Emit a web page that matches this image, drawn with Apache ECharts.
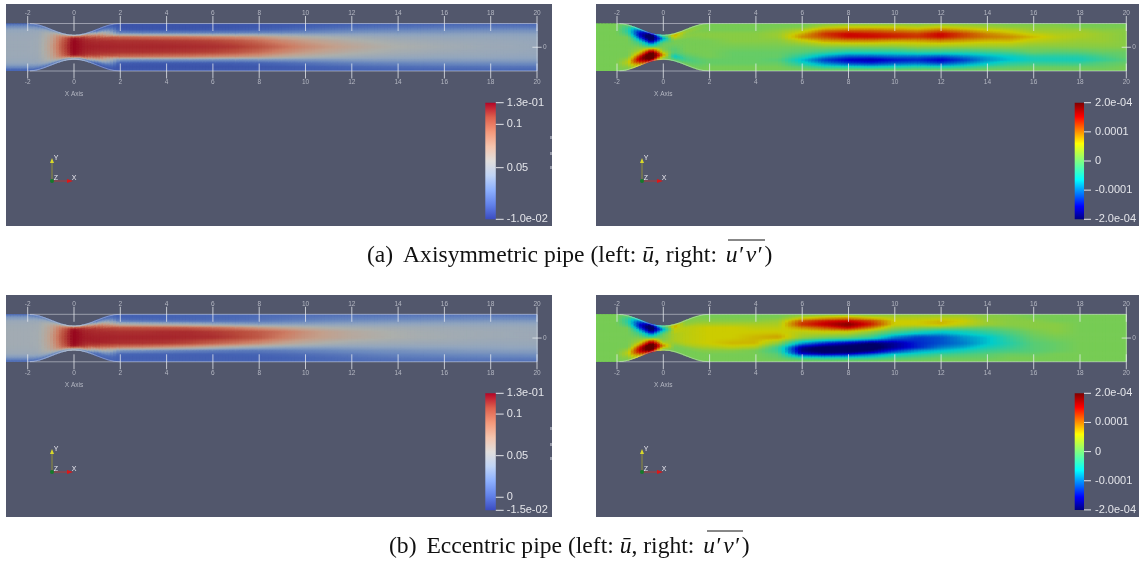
<!DOCTYPE html>
<html><head><meta charset="utf-8">
<style>html,body{margin:0;padding:0;background:#fff}#c{width:1139px;height:563px}</style>
<script src="https://cdn.jsdelivr.net/npm/echarts@6/dist/echarts.min.js"></script>
</head><body><div id="c"></div>
<script>
// Stations along the pipe and normalised radial rows (1 = upper wall, -1 = lower wall)
const stationsX = [-3,-2,-1.5,-1,-.5,0,.5,1,2,3,4,5,6,7,8,9,10,11,12,13,14,15,16,17,18,19,20];
const rowsR = [1,.85,.7,.55,.42,.25,0,-.25,-.42,-.55,-.7,-.85,-1];
// Wall radius
const wallX = [-3,-2,-1.75,-1.5,-1.25,-1,-.75,-.5,-.25,0,.25,.5,.75,1,1.25,1.5,1.75,2,20];
const wallR = [1,1,.981,.927,.846,.75,.654,.573,.519,.5,.519,.573,.654,.75,.846,.927,.981,1,1];
const xTicks = [-2,0,2,4,6,8,10,12,14,16,18,20];

// Mean velocity, axisymmetric pipe, 1e-3 units, half profile r=1..0 at each station
const uAxiHalf = [
[5,28,42,46,47,48,48],[5,28,42,46,47,48,48],[8,32,45,48,49,50,50],[14,45,60,66,68,70,72],
[20,70,92,98,100,102,104],[35,100,122,124,125,125,125],[15,85,110,115,117,118,119],[0,25,75,106,113,116,118],
[2,0,4,30,98,114,117],[3,0,3,28,96,114,117],[3,0,3,28,94,113,117],[3,0,3,28,92,112,116],
[3,0,4,28,88,110,115],[3,1,5,28,84,105,113],[4,2,7,30,78,97,107],[4,3,10,31,68,86,97],
[5,5,14,32,60,76,86],[5,7,18,33,54,68,78],[6,9,21,35,50,61,70],[6,11,23,36,47,56,63],
[7,12,24,36,45,52,58],[7,13,25,36,44,50,55],[7,14,26,36,43,48,52],[8,14,27,37,43,47,50],
[8,15,27,37,43,46,48],[8,15,28,37,42,45,47],[8,15,28,37,42,44,45]];
// Mean velocity, eccentric pipe, 1e-3 units
const uEcc = [
[5,28,42,46,47,48,48,48,47,46,42,28,5],[5,28,42,46,47,48,48,48,47,46,42,28,5],
[8,32,45,48,49,50,50,50,49,48,45,32,8],[14,45,60,66,68,70,72,70,68,66,60,45,14],
[20,70,92,98,100,102,104,102,100,98,92,70,20],[35,100,122,124,125,125,125,125,125,124,122,100,35],
[15,85,110,115,117,118,119,118,116,114,106,78,15],[0,30,85,110,114,116,118,118,112,100,55,15,0],
[2,0,12,58,104,114,117,114,88,28,3,0,2],[3,0,10,55,104,114,117,113,85,24,2,0,2],
[3,1,8,52,103,115,117,112,78,20,2,0,2],[3,2,8,48,101,115,116,108,70,17,1,0,1],
[4,3,8,42,95,112,115,100,60,15,1,0,1],[4,4,9,37,87,108,110,92,50,13,2,0,1],
[5,6,11,34,76,102,103,82,42,13,3,0,1],[5,8,15,34,68,93,90,70,36,15,5,1,2],
[6,10,18,35,60,80,78,60,34,18,8,3,3],[6,12,21,36,53,70,70,53,33,20,11,5,4],
[7,13,23,37,50,62,63,48,34,23,14,8,5],[7,14,25,37,48,57,58,46,35,25,17,10,6],
[8,15,26,38,47,53,54,45,35,26,19,12,6],[8,16,27,38,46,50,51,44,36,28,20,13,7],
[8,16,28,38,45,48,49,44,36,29,22,14,7],[8,17,28,38,44,47,47,43,37,31,23,15,8],
[8,17,29,38,43,46,46,42,37,32,24,16,8],[8,17,29,38,43,45,45,42,38,33,25,16,8],
[8,17,29,38,43,44,45,42,38,33,26,17,8]];
// Reynolds stress, axisymmetric pipe, 1e-5 units
const uvAxi = [
[1,1,1,1,1,1,1,1,1,1,1,1,1],[1,1,1,1,1,1,1,1,1,1,1,1,1],[1,-3,-4,-2,1,1,1,1,1,3,5,3,1],
[-5,-13,-16,-14,-9,-3,1,4,9,14,17,13,6],[-14,-21,-23,-22,-19,-12,-2,13,20,24,24,23,16],[-2,-4,-10,-7,-3,0,1,2,4,7,10,6,2],
[2,8,6,3,1,1,0,-1,-1,-3,-6,-4,0],[1,3,2,2,1,1,1,1,0,-1,-2,-1,1],[1,1,1,2,2,1,1,1,1,0,0,1,1],
[1,1,1,2,2,2,1,0,0,0,0,1,1],[1,1,1,2,2,2,1,0,0,0,0,1,1],[1,1,2,3,3,2,1,0,0,-1,0,1,1],
[1,1,4,7,9,5,1,-1,-4,-7,-5,-1,1],[1,4,9,13,12,8,2,-3,-9,-13,-10,-4,1],[1,5,10,15,15,9,2,-5,-12,-16,-13,-5,1],
[1,5,10,14,15,9,2,-5,-12,-17,-14,-6,1],[1,5,9,13,14,8,2,-5,-11,-15,-12,-5,1],[1,4,8,12,13,8,3,-4,-11,-14,-11,-4,1],
[1,5,10,15,15,9,3,-4,-12,-16,-13,-5,1],[1,4,8,12,12,8,3,-4,-10,-13,-10,-4,1],[1,3,6,9,10,7,3,-3,-8,-9,-7,-2,1],
[1,2,5,7,9,7,3,-2,-6,-7,-4,-1,1],[1,2,3,5,7,5,2,0,-4,-5,-3,0,1],[1,2,3,4,5,4,2,-1,-4,-5,-3,0,1],
[1,1,3,4,4,3,2,-1,-4,-5,-3,0,1],[1,1,2,3,3,3,2,0,-2,-3,-1,0,1],[1,1,2,2,2,2,2,0,0,-1,0,1,1]];
// Reynolds stress, eccentric pipe, 1e-5 units
const uvEcc = [
[1,1,1,1,1,1,1,1,1,1,1,1,1],[1,1,1,1,1,1,1,1,1,1,1,1,1],[1,-3,-4,-2,1,1,1,1,1,3,5,3,1],
[-5,-12,-15,-13,-8,-3,1,4,9,14,16,13,6],[-13,-20,-23,-21,-18,-11,-2,13,19,24,24,23,16],[-2,-4,-10,-7,-3,0,1,2,4,7,10,6,2],
[2,8,7,5,5,4,4,4,3,2,1,1,1],[1,2,3,5,5,5,5,5,4,2,1,1,1],[1,1,2,4,6,6,6,6,4,2,1,1,1],
[1,1,2,4,6,6,6,7,5,2,1,1,1],[1,1,2,4,5,6,7,7,4,1,1,1,1],[1,1,3,4,5,6,8,2,-3,-3,-1,0,1],
[1,4,11,13,9,5,3,-9,-18,-19,-15,-4,1],[1,6,14,16,12,6,1,-14,-21,-22,-17,-5,1],[1,7,15,19,16,6,0,-17,-22,-22,-16,-5,1],
[1,5,12,14,10,3,-3,-20,-22,-20,-12,-4,1],[2,4,6,6,3,-1,-10,-18,-18,-14,-7,-2,1],[2,4,6,6,2,-4,-13,-14,-14,-9,-5,-1,1],
[2,4,7,7,2,-6,-12,-12,-10,-7,-3,0,1],[2,4,6,5,1,-5,-9,-10,-8,-5,-2,0,1],[2,2,3,3,0,-3,-7,-7,-5,-3,-1,0,1],
[1,2,2,2,1,-1,-3,-4,-3,-2,0,1,1],[1,1,2,2,2,1,0,-1,-1,-1,0,1,1],[1,1,1,2,2,2,1,0,0,0,1,1,1],
[1,1,1,1,1,1,1,1,1,1,1,1,1],[1,1,1,1,1,1,1,1,1,1,1,1,1],[1,1,1,1,1,1,1,1,1,1,1,1,1]];

// Colour-bar scales
const barUaTicks = [-0.0096,0.05,0.1,0.125];
const barUaLabels = ['-1.0e-02','0.05','0.1','1.3e-01'];
const barUbTicks = [-0.0157,0,0.05,0.1,0.125];
const barUbLabels = ['-1.5e-02','0','0.05','0.1','1.3e-01'];
const barUvTicks = [-0.0002,-0.0001,0,0.0001,0.0002];
const barUvLabels = ['-2.0e-04','-0.0001','0','0.0001','2.0e-04'];

const coolWarm = [[0,59,76,192],[.125,98,130,234],[.25,141,176,254],[.375,192,212,245],[.5,225,222,220],[.625,245,196,173],[.75,244,152,122],[.875,222,96,77],[1,180,4,38]];
const coolWarmLit = [[0,45,60,155],[.125,70,100,180],[.25,105,135,190],[.375,145,165,190],[.5,172,175,172],[.625,195,160,140],[.75,205,125,100],[.875,185,75,60],[1,150,5,30]];
const jet = [[0,0,0,128],[.11,0,0,255],[.34,0,255,255],[.5,128,255,128],[.65,255,255,0],[.88,255,0,0],[1,128,0,0]];
const PANEL = '#52576c', TXT = '#e4e5ea', AX = '#b4b7c2';

function ramp(stops,t,dim){
  t=Math.max(0,Math.min(1,t));
  let i=0; while(i<stops.length-2&&t>stops[i+1][0])i++;
  const a=stops[i],b=stops[i+1],f=(t-a[0])/(b[0]-a[0]);
  const c=k=>Math.round((a[k]+(b[k]-a[k])*f)*dim);
  return 'rgb('+c(1)+','+c(2)+','+c(3)+')';
}
function radiusAt(x){
  let i=0; while(i<wallX.length-2&&x>wallX[i+1])i++;
  return wallR[i]+(wallR[i+1]-wallR[i])*(x-wallX[i])/(wallX[i+1]-wallX[i]);
}
const mirror = t => t.map(c=>c.concat(c.slice(0,-1).reverse()));

const grids=[],xAxes=[],yAxes=[],series=[],graphics=[];
function fieldSeries(g,table,stops,vmin,vmax,unit,dim){
  const data=[];
  for(let i=0;i<stationsX.length-1;i++)for(let j=0;j<rowsR.length-1;j++)
    data.push([stationsX[i],stationsX[i+1],rowsR[j],rowsR[j+1],table[i][j],table[i+1][j],table[i][j+1],table[i+1][j+1]]);
  return {type:'custom',xAxisIndex:g.xi,yAxisIndex:g.yi,coordinateSystem:'cartesian2d',clip:true,silent:true,animation:false,z:2,
    data,encode:{x:[0,1],y:[2,3]},progressive:0,
    renderItem(p,api){
      const x0=api.value(0),x1=api.value(1),r0=api.value(2),r1=api.value(3),
        a=api.value(4),b=api.value(5),c=api.value(6),d=api.value(7);
      const nx=Math.max(2,Math.ceil((x1-x0)*7)),ny=Math.max(2,Math.ceil(Math.abs(r0-r1)*18));
      const kids=[];
      for(let ix=0;ix<nx;ix++)for(let iy=0;iy<ny;iy++){
        const u0=ix/nx,u1=(ix+1)/nx,w0=iy/ny,w1=(iy+1)/ny,um=(u0+u1)/2,wm=(w0+w1)/2;
        const v=(a*(1-um)+b*um)*(1-wm)+(c*(1-um)+d*um)*wm;
        const fill=ramp(stops,(v*unit-vmin)/(vmax-vmin),dim);
        const P=(u,w)=>{const x=x0+(x1-x0)*u;return api.coord([x,(r0+(r1-r0)*w)*radiusAt(x)]);};
        kids.push({type:'polygon',shape:{points:[P(u0,w0),P(u1,w0),P(u1,w1),P(u0,w1)]},style:{fill,stroke:fill,lineWidth:1.2}});
      }
      return {type:'group',children:kids};
    }};
}
function segSeries(g,segs,color,width,z){
  return {type:'custom',xAxisIndex:g.xi,yAxisIndex:g.yi,clip:false,silent:true,animation:false,z:z,data:segs,
    encode:{x:[0,2],y:[1,3]},
    renderItem(p,api){
      const s=api.coord([api.value(0),api.value(1)]),e=api.coord([api.value(2),api.value(3)]);
      return {type:'line',shape:{x1:s[0],y1:s[1],x2:e[0],y2:e[1]},style:{stroke:color,lineWidth:width}};
    }};
}
function pipePanel(px,pw,x0,top,table,stops,vmin,vmax,unit,dim){
  const scale=23.15, gi=grids.length;
  grids.push({left:px,top:top,width:pw,height:47.5,containLabel:false});
  const xmin=(px-x0)/scale,xmax=(px+pw-x0)/scale;
  const xi=xAxes.length,yi=yAxes.length;
  const ax=(pos,margin)=>({gridIndex:gi,type:'value',position:pos,min:xmin,max:xmax,splitLine:{show:false},axisLine:{show:false},axisTick:{show:false},
    axisLabel:{customValues:xTicks,margin,fontSize:6.5,color:AX,fontFamily:'Liberation Sans'}});
  xAxes.push(ax('top',7),ax('bottom',7.5));
  yAxes.push({gridIndex:gi,type:'value',position:'right',offset:-(px+pw-(x0+20*scale)),min:-1,max:1,splitLine:{show:false},axisLine:{show:false},axisTick:{show:false},
    axisLabel:{customValues:[0],margin:6,fontSize:6.5,color:AX,fontFamily:'Liberation Sans'}});
  const g={xi,yi};
  series.push(fieldSeries(g,table,stops,vmin,vmax,unit,dim));
  const wallTop=[],wallBot=[];
  for(let i=1;i<wallX.length-2;i++){
    wallTop.push([wallX[i],wallR[i],wallX[i+1],wallR[i+1]]);
    wallBot.push([wallX[i],-wallR[i],wallX[i+1],-wallR[i+1]]);
  }
  series.push(segSeries(g,wallTop.concat(wallBot),'rgba(225,230,240,.35)',1,4));
  series.push(segSeries(g,[[-1.9,1,20,1],[-1.9,-1,20,-1],[20,1,20,-1]],'rgba(225,228,236,.5)',1,5));
  const tl=.316,segs=[[19.8,0,20.2,0]];
  xTicks.forEach(t=>{segs.push([t,1-tl,t,1+tl],[t,-1-tl,t,-1+tl]);});
  series.push(segSeries(g,segs,'rgba(235,237,242,.75)',1,6));
}
function colorBar(left,top,h,vmin,vmax,ticks,labels,stops){
  const gi=grids.length,xi=xAxes.length,yi=yAxes.length;
  grids.push({left:left,top:top,width:10.5,height:h});
  xAxes.push({gridIndex:gi,type:'value',min:0,max:1,show:false});
  yAxes.push({gridIndex:gi,type:'value',position:'right',min:vmin,max:vmax,splitLine:{show:false},axisLine:{show:false},
    axisTick:{show:false},
    axisLabel:{customValues:ticks,margin:11,fontSize:11,color:TXT,fontFamily:'Liberation Sans',
      formatter:v=>{let b=0,d=1e9;ticks.forEach((t,i)=>{const e=Math.abs(t-v);if(e<d){d=e;b=i;}});return labels[b];}}});
  const cs=stops.map(s=>({offset:1-s[0],color:'rgb('+s[1]+','+s[2]+','+s[3]+')'})).reverse();
  series.push({type:'custom',xAxisIndex:xi,yAxisIndex:yi,silent:true,animation:false,z:3,clip:false,
    data:[[0,vmin,1,vmax]],encode:{x:[0,2],y:[1,3]},
    renderItem(p,api){
      const a=api.coord([api.value(0),api.value(3)]),b=api.coord([api.value(2),api.value(1)]);
      return {type:'rect',shape:{x:a[0],y:a[1],width:b[0]-a[0],height:b[1]-a[1]},
        style:{fill:new echarts.graphic.LinearGradient(0,0,0,1,cs)}};
    }});
  series.push(segSeries({xi,yi},ticks.map(t=>[1,t,1.75,t]),TXT,1,4));
}
function panelDecor(px,py,pw,ph,x0,axisY){
  graphics.push({type:'rect',z:-1,silent:true,shape:{x:px,y:py,width:pw,height:ph},style:{fill:PANEL}});
  graphics.push({type:'text',z:10,silent:true,x:x0,y:axisY+70.5,style:{text:'X Axis',fill:AX,font:'6.5px "Liberation Sans"',align:'center',verticalAlign:'middle'}});
  const ox=px+46,oy=py+177;
  graphics.push({type:'line',z:10,silent:true,shape:{x1:ox,y1:oy,x2:ox,y2:oy-19},style:{stroke:'#8f8f3c',lineWidth:1}});
  graphics.push({type:'polygon',z:10,silent:true,shape:{points:[[ox-2,oy-18],[ox+2,oy-18],[ox,oy-23]]},style:{fill:'#d8d82a'}});
  graphics.push({type:'line',z:10,silent:true,shape:{x1:ox,y1:oy,x2:ox+17,y2:oy},style:{stroke:'#a83a3a',lineWidth:1}});
  graphics.push({type:'polygon',z:10,silent:true,shape:{points:[[ox+15,oy-2],[ox+15,oy+2],[ox+21,oy]]},style:{fill:'#e01515'}});
  graphics.push({type:'circle',z:11,silent:true,shape:{cx:ox,cy:oy,r:2},style:{fill:'#157a2a'}});
  [['Y',ox+4,oy-23],['Z',ox+4,oy-3],['X',ox+22,oy-3]].forEach(t=>graphics.push({type:'text',z:12,silent:true,x:t[1],y:t[2],
    style:{text:t[0],fill:'#e8e8ee',font:'7px "Liberation Sans"',align:'center',verticalAlign:'middle'}}));
}
// Panels
panelDecor(6,4,546,222,74,23.5);
panelDecor(596,4,543,222,663.3,23.5);
panelDecor(6,295,546,222,74,314.3);
panelDecor(596,295,543,222,663.3,314.3);
pipePanel(6,546,74,23.5,mirror(uAxiHalf),coolWarmLit,-0.0096,0.125,1e-3,1);
pipePanel(596,543,663.3,23.5,uvAxi,jet,-2e-4,2e-4,1e-5,.8);
pipePanel(6,546,74,314.3,uEcc,coolWarmLit,-0.0157,0.125,1e-3,1);
pipePanel(596,543,663.3,314.3,uvEcc,jet,-2e-4,2e-4,1e-5,.8);
colorBar(485.3,102.7,116.6,-0.0096,0.125,barUaTicks,barUaLabels,coolWarm);
colorBar(1074.7,102.7,116.6,-2e-4,2e-4,barUvTicks,barUvLabels,jet);
colorBar(485.3,393.3,117,-0.0157,0.125,barUbTicks,barUbLabels,coolWarm);
colorBar(1074.7,393.3,116.6,-2e-4,2e-4,barUvTicks,barUvLabels,jet);
// Overlines on the Reynolds-stress symbol
[[728,240,765],[707,531,743]].forEach(o=>graphics.push({type:'line',z:12,silent:true,shape:{x1:o[0],y1:o[1],x2:o[2],y2:o[1]},style:{stroke:'#111',lineWidth:1}}));
// Clipped label fragments at the right edge of the left panels
[[136,139],[152,155],[166,169],[427,430],[443,446],[457,460]].forEach(o=>graphics.push({type:'line',z:12,silent:true,shape:{x1:551,y1:o[0],x2:551,y2:o[1]},style:{stroke:'#d8dae2',lineWidth:1}}));

const capFont={fontFamily:'Liberation Serif',fontSize:23.6,color:'#111'};
const capStyle=Object.assign({},capFont,{fontWeight:'normal',rich:{
  s:Object.assign({},capFont,{padding:[0,0,0,4]}),
  i:Object.assign({},capFont,{fontStyle:'italic'}),
  p:Object.assign({},capFont,{fontStyle:'italic',padding:[0,0,0,3]}),
  q:Object.assign({},capFont,{fontStyle:'italic',padding:[0,3,0,3]})}});
const chart=echarts.init(document.getElementById('c'),null,{renderer:'canvas'});
chart.setOption({animation:false,backgroundColor:'#fff',
  title:[
    {text:'(a) {s|Axisymmetric} pipe (left: {i|ū}, right: {p|u′}{q|v′})',left:367,top:244,padding:0,textStyle:capStyle},
    {text:'(b) {s|Eccentric} pipe (left: {i|ū}, right: {p|u′}{q|v′})',left:389,top:535,padding:0,textStyle:capStyle}],
  grid:grids,xAxis:xAxes,yAxis:yAxes,series:series,graphic:{elements:graphics}});
</script></body></html>
